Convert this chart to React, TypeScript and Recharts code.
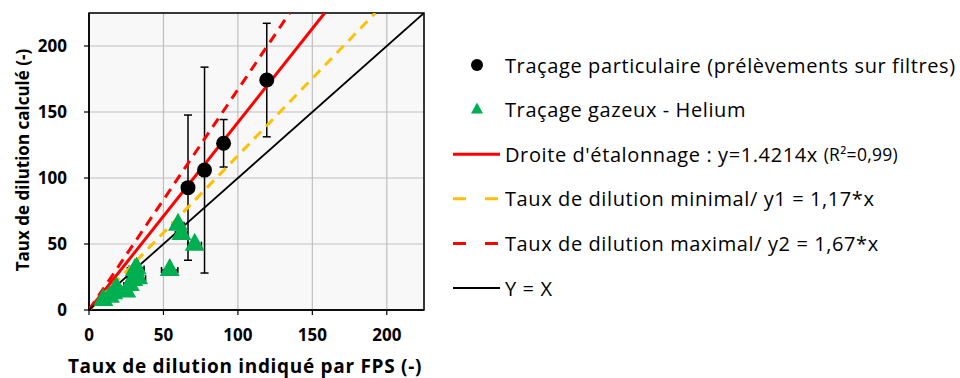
import React from 'react';
import { ComposedChart, Scatter, XAxis, YAxis, CartesianGrid, ErrorBar, ReferenceArea } from 'recharts';

const particleX = [66.5, 77.6, 90.4, 119.4];
const particleY = [92.7, 106, 126.3, 174.2];
const particleErr = [55, 78, 18, 43];

const heliumX = [9.6, 14, 16.3, 18.5, 25, 27.4, 29.7, 30.8, 32, 33, 54.2, 59.8, 62, 71];
const heliumY = [7.6, 10, 12.6, 16.4, 14, 19, 22.7, 30.3, 31.5, 24, 30.3, 64.5, 57.5, 49.5];
const heliumErrX = [3, 3, 3, 3, 3, 4, 4, 5, 5, 5, 5.5, 4, 4, 4.5];

const lineSlopes = [1.4214, 1.17, 1.67, 1];
const lineColors = ['#ff0000', '#ffc000', '#ff0000', '#000000'];
const lineDash = ['', '10 7', '10 7', ''];
const lineWidths = [3, 3, 3, 1.8];

const axisMax = 225;
const ticks = [0, 50, 100, 150, 200];

const legendLabels = [
  'Traçage particulaire (prélèvements sur filtres)',
  'Traçage gazeux - Helium',
  "Droite d'étalonnage : y=1.4214x (R²=0,99)",
  'Taux de dilution minimal/ y1 = 1,17*x',
  'Taux de dilution maximal/ y2 = 1,67*x',
  'Y = X',
];

const xTitle = 'Taux de dilution indiqué par FPS (-)';
const yTitle = 'Taux de dilution calculé (-)';

const particleData = particleX.map((x, i) => ({ x, y: particleY[i], err: particleErr[i] }));
const heliumData = heliumX.map((x, i) => ({ x, y: heliumY[i], errX: heliumErrX[i] }));
const lineData = lineSlopes.map((s) => [
  { x: 0, y: 0 },
  s >= 1 ? { x: axisMax / s, y: axisMax } : { x: axisMax, y: axisMax * s },
]);

const FONT = '"Open Sans", "Noto Sans", sans-serif';

const Circle = (props: any) => {
  const { cx, cy } = props;
  if (cx == null || cy == null) return <g />;
  return <circle cx={cx} cy={cy} r={7.5} fill="#000" />;
};

const Triangle = (props: any) => {
  const { cx, cy } = props;
  if (cx == null || cy == null) return <g />;
  const w = 10, h = 18;
  return (
    <polygon
      points={`${cx},${cy - (h * 2) / 3} ${cx - w},${cy + h / 3} ${cx + w},${cy + h / 3}`}
      fill="#00b050"
    />
  );
};

const NoShape = () => <g />;

const legendTop = 65;
const legendStep = 44.6;

const Legend2 = () => (
  <svg
    width={960}
    height={378}
    style={{ position: 'absolute', left: 0, top: 0, pointerEvents: 'none' }}
  >
    {legendLabels.map((label, i) => {
      const y = legendTop + i * legendStep;
      let marker: any = null;
      if (i === 0) marker = <circle cx={477} cy={y} r={6} fill="#000" />;
      else if (i === 1)
        marker = <polygon points={`477,${y - 7} 471,${y + 4} 483,${y + 4}`} fill="#00b050" />;
      else {
        const li = i - 2;
        marker = (
          <line
            x1={453}
            x2={500}
            y1={y}
            y2={y}
            stroke={lineColors[li]}
            strokeWidth={li === 3 ? 1.8 : 3}
            strokeDasharray={lineDash[li] ? '13 19' : undefined}
          />
        );
      }
      return (
        <g key={i}>
          {marker}
          <text
            x={505}
            y={y}
            dominantBaseline="central"
            fontFamily={FONT}
            fontSize={20}
            letterSpacing={0.6}
            fill="#000"
          >
            {i === 2 ? (
              <>
                {"Droite d'étalonnage : y=1.4214x "}
                <tspan fontSize={17.5} letterSpacing={0.3}>(R²=0,99)</tspan>
              </>
            ) : (
              label
            )}
          </text>
        </g>
      );
    })}
  </svg>
);

export default function App() {
  return (
    <div style={{ position: 'absolute', left: 0, top: 0, width: 960, height: 378, background: '#fff', fontFamily: FONT }}>
      <ComposedChart width={960} height={378} margin={{ top: 13, right: 536, bottom: 38, left: 34 }}>
        <CartesianGrid stroke="#bfbfbf" strokeWidth={1.2} fill="#f8f8f8" />
        <XAxis
          type="number"
          dataKey="x"
          domain={[0, axisMax]}
          ticks={ticks}
          allowDataOverflow
          height={30}
          tickSize={5}
          tickMargin={14}
          axisLine={{ stroke: '#000', strokeWidth: 1.5 }}
          tickLine={{ stroke: '#000', strokeWidth: 1.2 }}
          tick={{ fill: '#000', fontSize: 17, fontWeight: 700, fontFamily: FONT }}
        />
        <YAxis
          type="number"
          dataKey="y"
          domain={[0, axisMax]}
          ticks={ticks}
          allowDataOverflow
          width={55}
          tickSize={5}
          tickMargin={17}
          axisLine={{ stroke: '#000', strokeWidth: 1.5 }}
          tickLine={{ stroke: '#000', strokeWidth: 1.2 }}
          tick={{ fill: '#000', fontSize: 17, fontWeight: 700, fontFamily: FONT }}
        />
        <ReferenceArea x1={0} x2={axisMax} y1={0} y2={axisMax} fill="none" stroke="#000" strokeWidth={1.5} />
        {lineData.map((d, i) => (
          <Scatter
            key={'l' + i}
            data={d}
            shape={NoShape}
            line={{ stroke: lineColors[i], strokeWidth: lineWidths[i], strokeDasharray: lineDash[i] || undefined }}
            isAnimationActive={false}
          />
        ))}
        <Scatter data={heliumData} shape={Triangle} isAnimationActive={false}>
          <ErrorBar dataKey="errX" direction="x" width={3} stroke="#000" strokeWidth={1.5} />
        </Scatter>
        <Scatter data={particleData} shape={Circle} isAnimationActive={false}>
          <ErrorBar dataKey="err" direction="y" width={4} stroke="#000" strokeWidth={1.5} />
        </Scatter>
      </ComposedChart>
      <Legend2 />
      <div
        style={{
          position: 'absolute',
          left: 22,
          top: 160,
          transform: 'translate(-50%, -50%) rotate(-90deg)',
          whiteSpace: 'nowrap',
          fontWeight: 700,
          fontSize: 17,
          color: '#000',
        }}
      >
        {yTitle}
      </div>
      <div
        style={{
          position: 'absolute',
          left: 245,
          top: 366,
          transform: 'translate(-50%, -50%)',
          whiteSpace: 'nowrap',
          fontWeight: 700,
          fontSize: 19,
          letterSpacing: 0.7,
          color: '#000',
        }}
      >
        {xTitle}
      </div>
    </div>
  );
}
